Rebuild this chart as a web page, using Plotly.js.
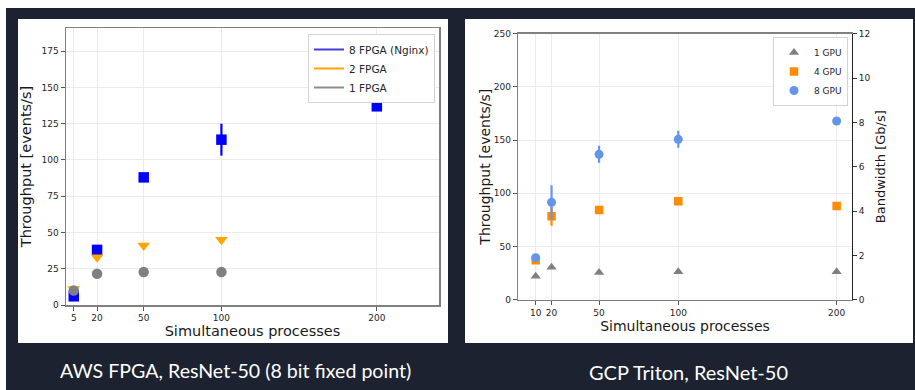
<!DOCTYPE html>
<html><head><meta charset="utf-8">
<script src="https://cdn.plot.ly/plotly-3.0.1.min.js"></script>
<style>html,body{margin:0;padding:0;background:#1c2230;}#c{width:915px;height:390px;}</style>
</head><body><div id="c"></div>
<script>
// ---- Left chart: AWS FPGA ----
const fpgaX = [5, 20, 50, 100, 200];
const fpga8 = [6, 38, 88, 114, 137];
const fpga8Err = [0, 0, 0, 11, 0];
const fpga2X = [5, 20, 50, 100];
const fpga2 = [11, 33, 41, 45];
const fpga1X = [5, 20, 50, 100];
const fpga1 = [10, 21.5, 22.7, 22.7];
const leftXTicks = [5, 20, 50, 100, 200];
const leftYTicks = [0, 25, 50, 75, 100, 125, 150, 175];

// ---- Right chart: GCP Triton ----
const gpuX = [10, 20, 50, 100, 200];
const gpu1 = [22, 30.5, 25.5, 26.3, 26.3];
const gpu4 = [37, 78.5, 84.3, 92.5, 88];
const gpu4Err = [0, 9, 0, 0, 0];
const gpu8 = [39.5, 91.5, 136.6, 150.7, 168];
const gpu8Err = [0, 16, 8, 8, 0];
const rightXTicks = [10, 20, 50, 100, 200];
const rightYTicks = [0, 50, 100, 150, 200, 250];
const bwTicks = [0, 2, 4, 6, 8, 10, 12];

const captions = ["AWS FPGA, ResNet-50 (8 bit fixed point)", "GCP Triton, ResNet-50"];

const W = 915, H = 390;
const px = v => v / W;
const py = v => (H - v) / H;

const traces = [
  // left markers
  {x: fpgaX, y: fpga8, type: 'scatter', mode: 'markers', xaxis: 'x', yaxis: 'y', showlegend: false,
   marker: {symbol: 'square', size: 10.5, color: '#0000ff'},
   error_y: {type: 'data', array: fpga8Err, visible: true, width: 0, thickness: 2.2, color: '#0000ff'}},
  {x: fpga2X, y: fpga2, type: 'scatter', mode: 'markers', xaxis: 'x', yaxis: 'y', showlegend: false,
   marker: {symbol: 'triangle-down', size: 11, color: '#ffa500'}},
  {x: fpga1X, y: fpga1, type: 'scatter', mode: 'markers', xaxis: 'x', yaxis: 'y', showlegend: false,
   marker: {symbol: 'circle', size: 10.5, color: '#808080'}},
  // left legend entries (lines)
  {x: [null], y: [null], type: 'scatter', mode: 'lines', name: '8 FPGA (Nginx)', legend: 'legend', xaxis: 'x', yaxis: 'y', line: {color: '#3f3fd6', width: 2}},
  {x: [null], y: [null], type: 'scatter', mode: 'lines', name: '2 FPGA', legend: 'legend', xaxis: 'x', yaxis: 'y', line: {color: '#ffa500', width: 2}},
  {x: [null], y: [null], type: 'scatter', mode: 'lines', name: '1 FPGA', legend: 'legend', xaxis: 'x', yaxis: 'y', line: {color: '#8c8c8c', width: 2}},
  // right
  {x: gpuX, y: gpu1, type: 'scatter', mode: 'markers', name: '1 GPU', legend: 'legend2', xaxis: 'x2', yaxis: 'y2',
   marker: {symbol: 'triangle-up', size: 9, color: '#808080'}},
  {x: gpuX, y: gpu4, type: 'scatter', mode: 'markers', name: '4 GPU', legend: 'legend2', xaxis: 'x2', yaxis: 'y2',
   marker: {symbol: 'square', size: 8.5, color: '#ff8c00'},
   error_y: {type: 'data', array: gpu4Err, visible: true, width: 0, thickness: 2.2, color: '#ff8c00'}},
  {x: gpuX, y: gpu8, type: 'scatter', mode: 'markers', name: '8 GPU', legend: 'legend2', xaxis: 'x2', yaxis: 'y2',
   marker: {symbol: 'circle', size: 9, color: '#6495ed'},
   error_y: {type: 'data', array: gpu8Err, visible: true, width: 0, thickness: 2.2, color: '#6495ed'}},
  {x: [null], y: [null], type: 'scatter', mode: 'markers', showlegend: false, xaxis: 'x2', yaxis: 'y3', hoverinfo: 'skip'}
];

const tickFont = {family: 'DejaVu Sans', size: 9, color: '#262626'};
const titleFontL = {family: 'DejaVu Sans', size: 14.5, color: '#1a1a1a'};
const titleFontR = {family: 'DejaVu Sans', size: 14, color: '#1a1a1a'};
const grid = '#ebebeb';

const layout = {
  width: W, height: H,
  margin: {l: 0, r: 0, t: 0, b: 0},
  paper_bgcolor: '#1c2230',
  plot_bgcolor: '#ffffff',
  showlegend: true,
  shapes: [
    {type: 'rect', xref: 'paper', yref: 'paper', x0: 0, x1: 1, y0: py(8), y1: 1, fillcolor: '#ffffff', line: {width: 0}, layer: 'below'},
    {type: 'rect', xref: 'paper', yref: 'paper', x0: 0, x1: px(6), y0: 0, y1: 1, fillcolor: '#ffffff', line: {width: 0}, layer: 'below'},
    {type: 'rect', xref: 'paper', yref: 'paper', x0: px(18), x1: px(448), y0: py(343), y1: py(19), fillcolor: '#ffffff', line: {width: 0}, layer: 'below'},
    {type: 'rect', xref: 'paper', yref: 'paper', x0: px(465), x1: px(913), y0: py(343), y1: py(19), fillcolor: '#ffffff', line: {width: 0}, layer: 'below'}
  ],
  annotations: [
    {xref: 'paper', yref: 'paper', x: px(235), y: py(370), text: captions[0], showarrow: false,
     font: {family: 'Lato', size: 19.6, color: '#ffffff'}, xanchor: 'center', yanchor: 'middle'},
    {xref: 'paper', yref: 'paper', x: px(688), y: py(372), text: captions[1], showarrow: false,
     font: {family: 'Lato', size: 20, color: '#ffffff'}, xanchor: 'center', yanchor: 'middle'}
  ],
  xaxis: {domain: [px(66), px(439)], anchor: 'y', range: [0, 240], tickmode: 'array', tickvals: leftXTicks,
    ticks: 'outside', ticklen: 4, tickcolor: '#555', tickfont: tickFont, showgrid: true, gridcolor: grid, zeroline: false,
    showline: true, linecolor: '#808080', linewidth: 1.5, mirror: true,
    title: {text: 'Simultaneous processes', font: titleFontL, standoff: 3}},
  yaxis: {domain: [py(305), py(28)], anchor: 'x', range: [0, 191], tickmode: 'array', tickvals: leftYTicks,
    ticks: 'outside', ticklen: 4, tickcolor: '#555', tickfont: tickFont, showgrid: true, gridcolor: grid, zeroline: false,
    showline: true, linecolor: '#808080', linewidth: 1.5, mirror: true,
    title: {text: 'Throughput [events/s]', font: titleFontL, standoff: 6}},
  xaxis2: {domain: [px(518.3), px(851.7)], anchor: 'y2', range: [-1, 209.5], tickmode: 'array', tickvals: rightXTicks,
    ticks: 'outside', ticklen: 4, tickcolor: '#555', tickfont: tickFont, showgrid: true, gridcolor: grid, zeroline: false,
    showline: true, linecolor: '#808080', linewidth: 1.5, mirror: true,
    title: {text: 'Simultaneous processes', font: titleFontR, standoff: 1}},
  yaxis2: {domain: [py(299.7), py(33.7)], anchor: 'x2', range: [0, 250], tickmode: 'array', tickvals: rightYTicks,
    ticks: 'outside', ticklen: 4, tickcolor: '#555', tickfont: tickFont, showgrid: true, gridcolor: grid, zeroline: false,
    showline: true, linecolor: '#808080', linewidth: 1.5,
    title: {text: 'Throughput [events/s]', font: titleFontR, standoff: 0}},
  yaxis3: {overlaying: 'y2', anchor: 'x2', side: 'right', range: [0, 12], tickmode: 'array', tickvals: bwTicks,
    ticks: 'outside', ticklen: 4, tickcolor: '#333', tickfont: tickFont, showgrid: false, zeroline: false,
    showline: true, linecolor: '#222', linewidth: 1.3,
    title: {text: 'Bandwidth [Gb/s]', font: {family: 'DejaVu Sans', size: 13, color: '#1a1a1a'}, standoff: 6}},
  legend: {x: px(435), y: py(34), xanchor: 'right', yanchor: 'top', bgcolor: '#ffffff', bordercolor: '#d4d4d4', borderwidth: 1,
    font: {family: 'DejaVu Sans', size: 10.5, color: '#262626'}, tracegroupgap: 0, itemwidth: 30},
  legend2: {x: px(848), y: py(37), xanchor: 'right', yanchor: 'top', bgcolor: '#ffffff', bordercolor: '#d4d4d4', borderwidth: 1,
    font: {family: 'DejaVu Sans', size: 9, color: '#262626'}, tracegroupgap: 0, itemwidth: 30}
};

Plotly.newPlot('c', traces, layout, {displayModeBar: false, staticPlot: true});
</script>
</body></html>
